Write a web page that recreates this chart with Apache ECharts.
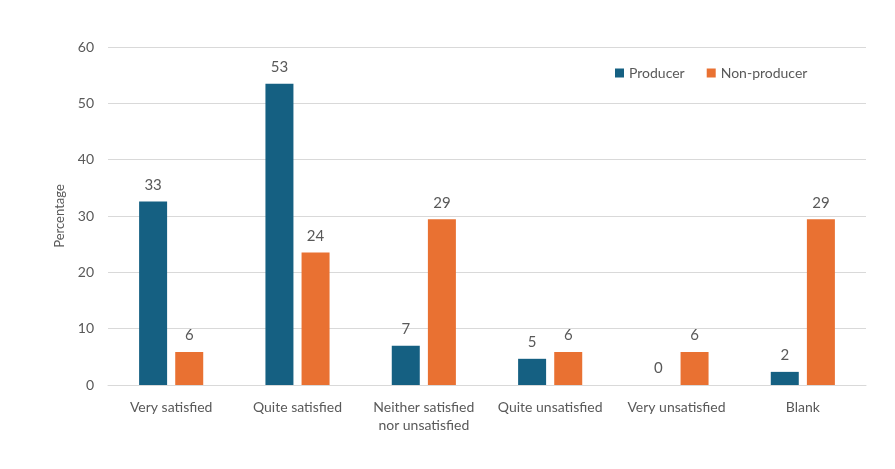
<!DOCTYPE html>
<html><head><meta charset="utf-8">
<script src="https://cdn.jsdelivr.net/npm/echarts@6/dist/echarts.min.js"></script>
<style>html,body{margin:0;padding:0;background:#fff}#c{width:895px;height:469px}</style>
</head><body><div id="c"></div>
<script>
const categories = ['Very satisfied','Quite satisfied','Neither satisfied\nnor unsatisfied','Quite unsatisfied','Very unsatisfied','Blank'];
const producer = [32.56, 53.49, 6.98, 4.65, 0, 2.33];
const nonProducer = [5.88, 23.53, 29.41, 5.88, 5.88, 29.41];
const yTicks = {min:0, max:60, interval:10};
const font = 'Lato, "Open Sans", sans-serif';
const txt = '#595959';
const chart = echarts.init(document.getElementById('c'));
chart.setOption({
  animation:false,
  textStyle:{fontFamily:font},
  grid:{left:108, right:29, top:47, bottom:84},
  legend:{top:61, left:610, itemWidth:9, itemHeight:9, itemGap:22,
    textStyle:{color:txt, fontSize:14, fontFamily:font},
    icon:'rect',
    data:['Producer','Non-producer']},
  xAxis:{type:'category', data:categories,
    axisLine:{show:true, lineStyle:{color:'#d9d9d9'}}, axisTick:{show:false},
    axisLabel:{color:txt, fontSize:14, margin:13, lineHeight:18, interval:0}},
  yAxis:{type:'value', min:yTicks.min, max:yTicks.max, interval:yTicks.interval,
    name:'Percentage', nameLocation:'middle', nameGap:42, nameRotate:90,
    nameTextStyle:{color:txt, fontSize:13},
    axisLine:{show:false}, axisTick:{show:false},
    axisLabel:{color:txt, fontSize:14, margin:14},
    splitLine:{lineStyle:{color:'#d9d9d9'}}},
  series:[
    {name:'Producer', type:'bar', data:producer, barWidth:28, barGap:'29%',
      itemStyle:{color:'#156082'},
      label:{show:true, position:'top', distance:9, color:txt, fontSize:15, formatter:p=>Math.round(p.value)}},
    {name:'Non-producer', type:'bar', data:nonProducer, barWidth:28,
      itemStyle:{color:'#E97132'},
      label:{show:true, position:'top', distance:9, color:txt, fontSize:15, formatter:p=>Math.round(p.value)}}
  ]
});
</script></body></html>
